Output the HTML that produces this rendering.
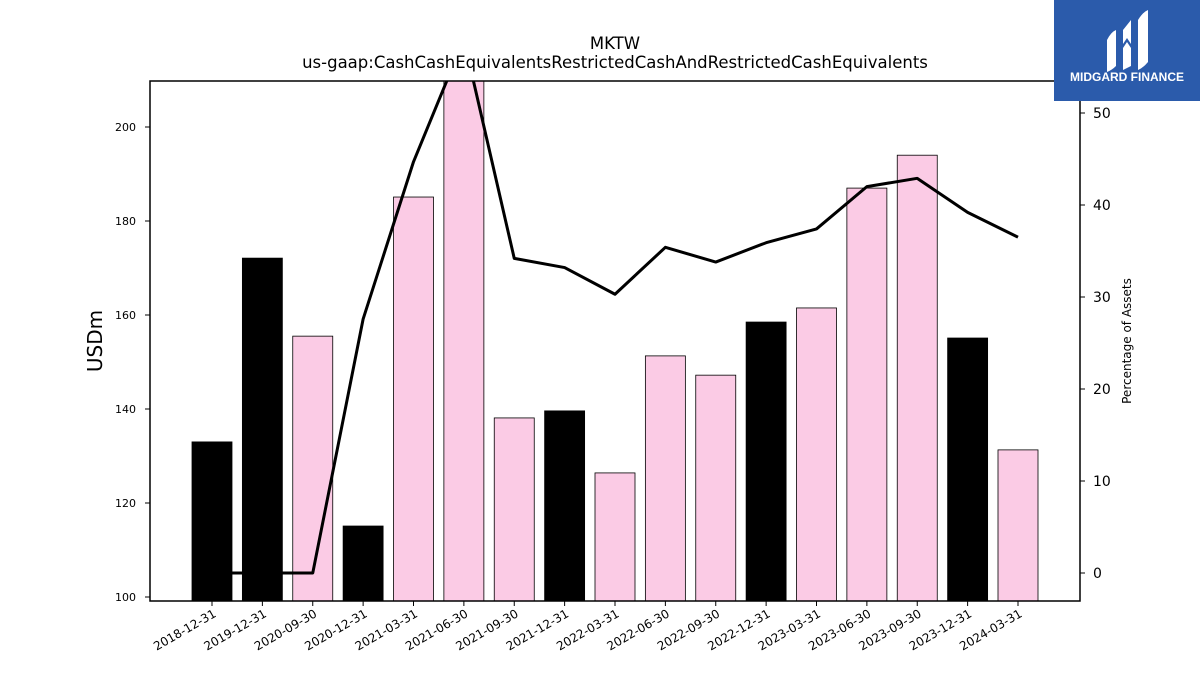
<!DOCTYPE html>
<html><head><meta charset="utf-8">
<style>
body{margin:0;background:#fff;width:1200px;height:675px;overflow:hidden;font-family:"Liberation Sans","DejaVu Sans",sans-serif;}
</style></head>
<body>
<svg id="chart" width="1200" height="675" xmlns="http://www.w3.org/2000/svg" font-family="DejaVu Sans, Liberation Sans, sans-serif">
<text x="615" y="49" font-size="16.5" text-anchor="middle">MKTW</text>
<text x="615" y="68" font-size="16.5" text-anchor="middle">us-gaap:CashCashEquivalentsRestrictedCashAndRestrictedCashEquivalents</text>
<defs><clipPath id="pc"><rect x="150" y="81" width="930" height="520"/></clipPath></defs>
<g id="bars" clip-path="url(#pc)"></g>
<g id="line" clip-path="url(#pc)"></g>
<rect x="150" y="81" width="930" height="520" fill="none" stroke="#000" stroke-width="1.5"/>
<g id="axes"></g>
<text transform="translate(102,341) rotate(-90)" font-size="20" text-anchor="middle">USDm</text>
<text transform="translate(1131,341) rotate(-90)" font-size="12" text-anchor="middle">Percentage of Assets</text>
<g>
<rect x="1054" y="0" width="146" height="101" fill="#2b5bab"/>
<path d="M1107 40 Q1111 32 1116 30 L1116 66 Q1112 70 1107 72 Z" fill="#fff"/>
<path d="M1123 30 L1131 20 L1131 44 L1127 38 L1123 44 Z M1123 48 L1127 42 L1131 48 L1131 66 L1123 70 Z" fill="#fff"/>
<path d="M1138 20 Q1143 12 1148 10 L1148 62 Q1143 68 1138 70 Z" fill="#fff"/>
<text x="1127" y="81" font-size="12" font-weight="bold" fill="#fff" text-anchor="middle" font-family="Liberation Sans, sans-serif">MIDGARD FINANCE</text>
</g>
</svg>
<script>
const categories=["2018-12-31","2019-12-31","2020-09-30","2020-12-31","2021-03-31","2021-06-30","2021-09-30","2021-12-31","2022-03-31","2022-06-30","2022-09-30","2022-12-31","2023-03-31","2023-06-30","2023-09-30","2023-12-31","2024-03-31"];
const cashValues=[133.0,172.1,155.5,115.1,185.1,212,138.1,139.6,126.4,151.3,147.2,158.5,161.5,187.0,194.0,155.1,131.3];
const pctValues=[0,0,0,27.6,44.7,58,34.2,33.2,30.3,35.4,33.8,35.9,37.4,42.0,42.9,39.2,36.5];
const leftTicks=[100,120,140,160,180,200];
const rightTicks=[0,10,20,30,40,50];
const NS="http://www.w3.org/2000/svg";
const xc=i=>212+i*50.375;
const yL=v=>597-(v-100)*4.7;
const yR=v=>573-v*9.2;
const bars=document.getElementById('bars'),line=document.getElementById('line'),axes=document.getElementById('axes');
function mk(tag,attrs,parent){const e=document.createElementNS(NS,tag);for(const k in attrs)e.setAttribute(k,attrs[k]);parent.appendChild(e);return e;}
categories.forEach((c,i)=>{
  const dec=c.endsWith("12-31");
  const r=mk('rect',{x:xc(i)-20,y:yL(cashValues[i]),width:40,height:601-yL(cashValues[i]),fill:dec?'#000':'#fbcbe5',stroke:'#000','stroke-width':0.8},bars);
  
  
  const t=mk('line',{x1:xc(i),x2:xc(i),y1:601,y2:606,stroke:'#000'},axes);
  
  
  const l=mk('text',{x:0,y:0,'font-size':12,'text-anchor':'end',transform:`translate(${xc(i)+5},${616}) rotate(-30)`},axes);
  l.textContent=c;
  
  
});
const p=mk('polyline',{points:pctValues.map((v,i)=>xc(i)+','+yR(v)).join(' '),fill:'none',stroke:'#000','stroke-width':3,'stroke-linejoin':'round'},line);


leftTicks.forEach(v=>{
  const t=mk('line',{x1:145,x2:150,y1:yL(v),y2:yL(v),stroke:'#000'},axes);
  
  
  const l=mk('text',{x:136,y:yL(v)+4,'font-size':11,'text-anchor':'end'},axes);
  l.textContent=v;
  
  
});
rightTicks.forEach(v=>{
  const t=mk('line',{x1:1080,x2:1085,y1:yR(v),y2:yR(v),stroke:'#000'},axes);
  
  
  const l=mk('text',{x:1093,y:yR(v)+5,'font-size':14},axes);
  l.textContent=v;
  
  
});
</script>
</body></html>
